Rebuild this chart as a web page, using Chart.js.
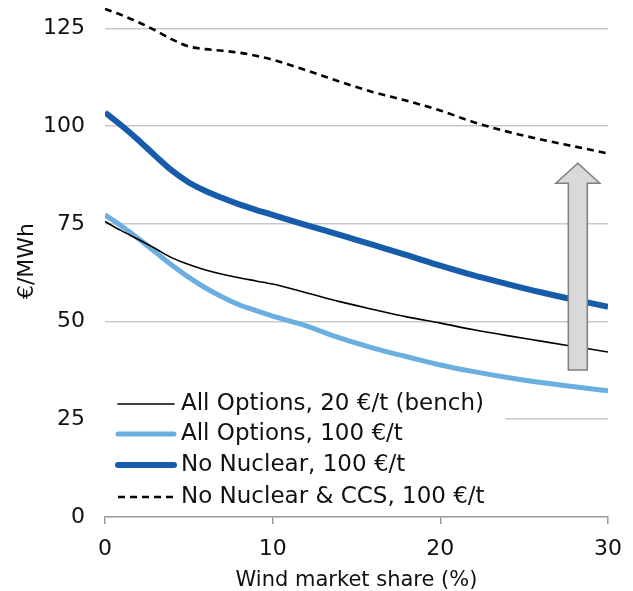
<!DOCTYPE html>
<html>
<head>
<meta charset="utf-8">
<script src="https://cdn.jsdelivr.net/npm/chart.js@4"></script>
<style>
html,body{margin:0;padding:0;background:#fff;}
#wrap{width:633px;height:591px;position:relative;}
</style>
</head>
<body>
<div id="wrap"><canvas id="c" width="633" height="591"></canvas></div>
<script>
// Wind market share (%) sample points
const windShare = [0,1,2,3,4,5,6,7,8,9,10,12,14,16,18,20,22,24,26,28,30];
// €/MWh series
const allOptions20   = [75.6,73.2,71.0,68.7,66.3,64.6,63.2,62.1,61.2,60.4,59.6,57.4,55.1,53.1,51.2,49.6,47.9,46.4,45.0,43.6,42.2];
const allOptions100  = [77.3,74.4,71.2,67.8,64.4,61.3,58.6,56.3,54.3,52.8,51.4,48.9,45.8,43.2,41.0,38.9,37.2,35.7,34.4,33.3,32.3];
const noNuclear100   = [103.5,100.1,96.4,92.4,88.6,85.6,83.4,81.6,80.0,78.6,77.3,74.7,72.2,69.6,67.0,64.3,61.8,59.6,57.5,55.6,53.8];
const noNuclearCCS   = [130.0,128.4,126.6,124.5,122.2,120.4,119.7,119.3,118.8,118.0,117.0,114.3,111.4,108.7,106.5,104.0,101.0,98.6,96.6,94.8,93.0];
const seriesLabels = ["All Options, 20 €/t (bench)","All Options, 100 €/t","No Nuclear, 100 €/t","No Nuclear & CCS, 100 €/t"];
const xTickValues = [0,10,20,30];
const yTickStep = 25;
// arrow annotation (data units)
const arrowX = 28.2, arrowFrom = 37.6, arrowTo = 90.5;

function pts(ys){ return windShare.map((x,i)=>({x:x,y:ys[i]})); }

const FONT = "'DejaVu Sans', sans-serif";

const legendPlugin = {
  id:'inlegend',
  afterDatasetsDraw(chart){
    const ctx = chart.ctx;
    const xs = chart.scales.x, ys = chart.scales.y;
    // arrow
    const ax = xs.getPixelForValue(arrowX);
    const yb = ys.getPixelForValue(arrowFrom);
    const yt = ys.getPixelForValue(arrowTo);
    const sw = 9.5, hw = 22, hh = 20;
    ctx.save();
    ctx.beginPath();
    ctx.moveTo(ax - sw, yb);
    ctx.lineTo(ax - sw, yt + hh);
    ctx.lineTo(ax - hw, yt + hh);
    ctx.lineTo(ax, yt);
    ctx.lineTo(ax + hw, yt + hh);
    ctx.lineTo(ax + sw, yt + hh);
    ctx.lineTo(ax + sw, yb);
    ctx.closePath();
    ctx.fillStyle = '#d9d9d9';
    ctx.fill();
    ctx.lineWidth = 1.5;
    ctx.strokeStyle = '#7f7f7f';
    ctx.stroke();
    ctx.restore();

    // legend
    const left = chart.chartArea.left;
    ctx.save();
    ctx.fillStyle = '#ffffff';
    ctx.fillRect(left, 388, 400, 126);
    const rowY = [404, 434, 465, 497];
    chart.data.datasets.forEach((ds, i) => {
      const y = rowY[i];
      ctx.beginPath();
      ctx.strokeStyle = ds.borderColor;
      ctx.lineWidth = ds.borderWidth;
      ctx.setLineDash(ds.borderDash || []);
      ctx.lineCap = ds.borderDash ? 'butt' : 'round';
      ctx.moveTo(118, y);
      ctx.lineTo(174, y);
      ctx.stroke();
      ctx.setLineDash([]);
      ctx.fillStyle = '#111';
      ctx.font = "23px " + FONT;
      ctx.textBaseline = 'middle';
      ctx.textAlign = 'left';
      ctx.fillText(ds.label, 181, y);
    });
    ctx.restore();
  }
};

new Chart(document.getElementById('c'), {
  type:'line',
  data:{
    datasets:[
      {label:seriesLabels[0], data:pts(allOptions20), borderColor:'#000000', borderWidth:1.6, pointRadius:0, cubicInterpolationMode:'monotone', order:1},
      {label:seriesLabels[1], data:pts(allOptions100), borderColor:'#6aafe0', borderWidth:5, pointRadius:0, cubicInterpolationMode:'monotone', order:2},
      {label:seriesLabels[2], data:pts(noNuclear100), borderColor:'#165caa', borderWidth:6, pointRadius:0, cubicInterpolationMode:'monotone', order:3},
      {label:seriesLabels[3], data:pts(noNuclearCCS), borderColor:'#000000', borderWidth:2.6, borderDash:[7,5], pointRadius:0, cubicInterpolationMode:'monotone', order:0}
    ]
  },
  options:{
    responsive:false,
    animation:false,
    devicePixelRatio:1,
    layout:{padding:{left:0,right:25,top:5,bottom:0}},
    plugins:{legend:{display:false}, tooltip:{enabled:false}},
    scales:{
      x:{
        type:'linear', min:0, max:30,
        afterBuildTicks(s){ s.ticks = xTickValues.map(v=>({value:v})); },
        afterFit(s){ s.height = 74; s.paddingLeft = 0; s.paddingRight = 0; },
        border:{display:true, color:'#9a9a9a', width:1.5},
        grid:{drawOnChartArea:false, drawTicks:true, tickLength:7, color:'#9a9a9a', lineWidth:1.5},
        ticks:{padding:12, color:'#111', font:{size:22, family:FONT}, maxRotation:0},
        title:{display:true, text:'Wind market share (%)', color:'#111', font:{size:21, family:FONT, lineHeight:1.0}, padding:{top:2,bottom:0}}
      },
      y:{
        type:'linear', min:0, max:131,
        ticks:{stepSize:yTickStep, includeBounds:false, padding:20, color:'#111', font:{size:22, family:FONT}},
        afterFit(s){ s.width = 105; s.paddingTop = 0; s.paddingBottom = 0; },
        border:{display:false},
        grid:{drawTicks:false, color:(c)=> c.tick.value===0 ? 'rgba(0,0,0,0)' : '#c8c8c8', lineWidth:1.6},
        title:{display:true, text:'€/MWh', color:'#111', font:{size:22, family:FONT}, padding:{top:14,bottom:0}}
      }
    }
  },
  plugins:[legendPlugin]
});
</script>
</body>
</html>
